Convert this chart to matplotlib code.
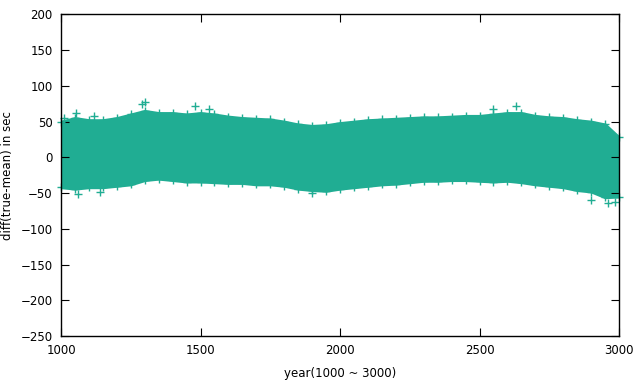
import numpy as np
import matplotlib
matplotlib.use("Agg")
import matplotlib.pyplot as plt

# envelope of the point cloud, read every 50 years
years = np.arange(1000, 3001, 50)
upper = [50, 55, 52, 52, 55, 60, 65, 62, 62, 60, 62, 60, 57, 55, 54, 53, 50, 46, 44, 45, 48,
         50, 52, 53, 54, 55, 56, 56, 57, 58, 58, 60, 62, 62, 58, 56, 55, 52, 50, 46, 28]
lower = [-42, -44, -42, -42, -40, -38, -32, -30, -32, -34, -34, -35, -36, -36, -38, -38, -40,
         -44, -46, -47, -44, -42, -40, -38, -37, -35, -33, -33, -32, -32, -33, -34, -33, -35,
         -38, -40, -42, -46, -48, -56, -55]

# single stray points outside the dense band
out_years = [1010, 1055, 1120, 1290, 1300, 1480, 1530, 2550, 2630, 1060, 1140, 1900, 2900, 2960, 2985]
out_vals = [55, 62, 58, 75, 78, 72, 68, 68, 72, -52, -48, -50, -60, -64, -62]

color = "#20ad93"

fig = plt.figure(figsize=(6.4, 3.87), dpi=100)
ax = fig.add_axes([61 / 640, 1 - 336 / 387, 558 / 640, (336 - 14.3) / 387])

ax.fill_between(years, lower, upper, color=color, linewidth=2, edgecolor=color)
ax.plot(years, upper, "+", color=color, ms=6, mew=1, clip_on=False)
ax.plot(years, lower, "+", color=color, ms=6, mew=1, clip_on=False)
ax.plot(out_years, out_vals, "+", color=color, ms=6, mew=1, clip_on=False)

ax.set_xlim(1000, 3000)
ax.set_ylim(-250, 200)
ax.set_xticks(np.arange(1000, 3001, 500))
ax.set_yticks(np.arange(-250, 201, 50))
ax.tick_params(direction="in", length=6, width=0.8, top=True, right=True, labelsize=8.5, pad=6)
for s in ax.spines.values():
    s.set_linewidth(1)

ax.set_xlabel("year(1000 ~ 3000)", fontsize=8.5, labelpad=7)
ax.set_ylabel("diff(true-mean) in sec", fontsize=8.5, labelpad=5)

fig.savefig("out.png", dpi=100)
